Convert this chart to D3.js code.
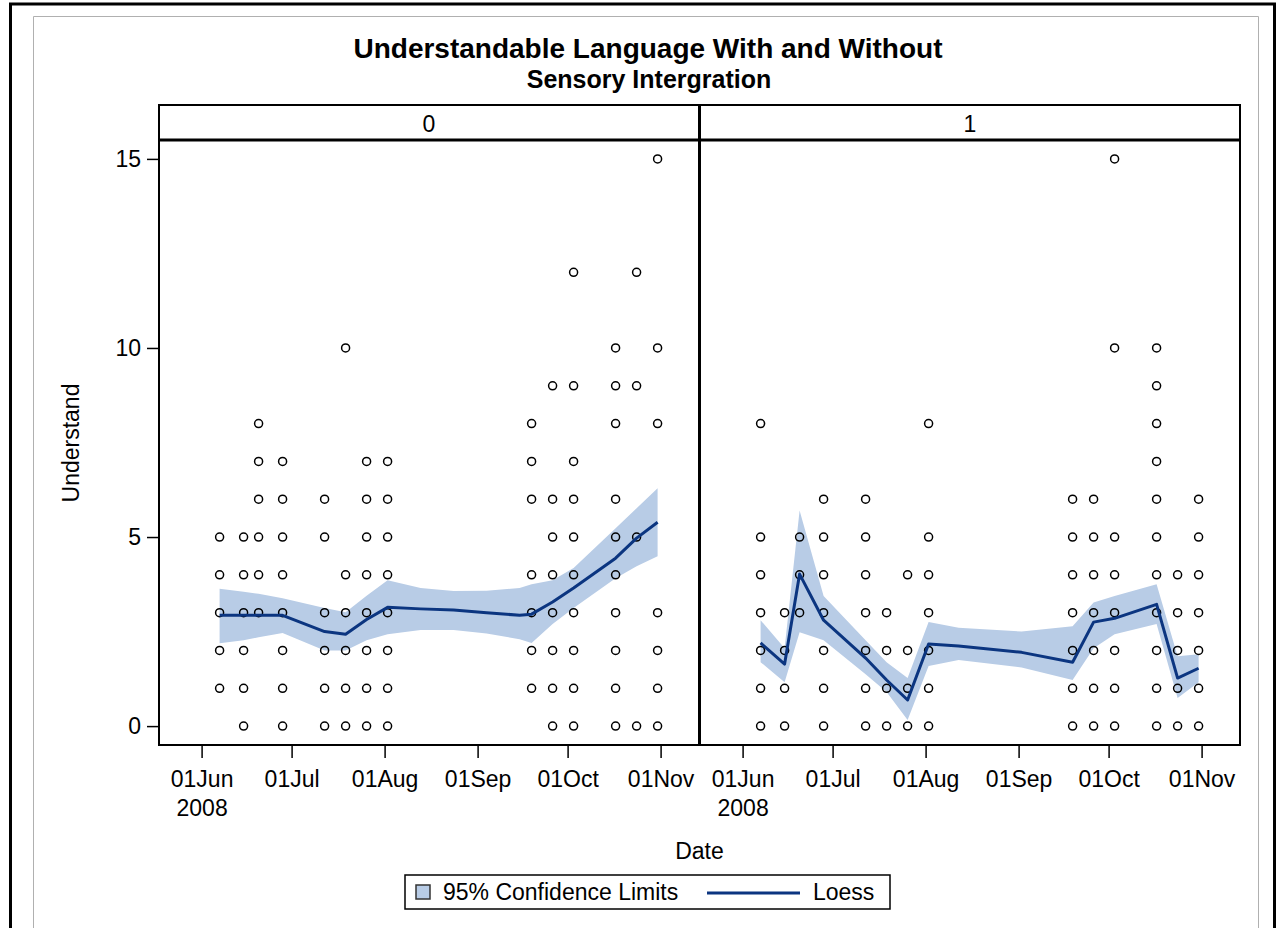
<!DOCTYPE html>
<html>
<head>
<meta charset="utf-8">
<script src="https://cdn.jsdelivr.net/npm/d3@7"></script>
<style>
  body { margin: 0; background: white; }
  svg text { font-family: "Liberation Sans", Arial, sans-serif; fill: #000; }
</style>
</head>
<body>
<div id="graph"></div>
<script>
var PANEL_LEFT = 159;
var PANEL_WIDTH = 540;
var PANEL_GAP = 1;
var HEADER_TOP = 105;
var PLOT_TOP = 140;
var PLOT_BOTTOM = 745;
var FONT = 23;

// ---- data ----
const panel_keys = ["0", "1"];

const x_tick_dates  = ["2008-06-01", "2008-07-01", "2008-08-01", "2008-09-01", "2008-10-01", "2008-11-01"];
const x_tick_labels = ["01Jun", "01Jul", "01Aug", "01Sep", "01Oct", "01Nov"];
const y_ticks = [0, 5, 10, 15];

// observation dates (same visits in both groups)
const obs_dates = ["2008-06-07", "2008-06-15", "2008-06-20", "2008-06-28", "2008-07-12", "2008-07-19", "2008-07-26",
                   "2008-08-02", "2008-09-19", "2008-09-26", "2008-10-03", "2008-10-17", "2008-10-24", "2008-10-31"];

// Understand scores at each date, group 0
const understand_0 = [
  [1, 2, 3, 4, 5],
  [0, 1, 2, 3, 4, 5],
  [3, 4, 5, 6, 7, 8],
  [0, 1, 2, 3, 4, 5, 6, 7],
  [0, 1, 2, 3, 5, 6],
  [0, 1, 2, 3, 4, 10],
  [0, 1, 2, 3, 4, 5, 6, 7],
  [0, 1, 2, 3, 4, 5, 6, 7],
  [1, 2, 3, 4, 6, 7, 8],
  [0, 1, 2, 3, 4, 5, 6, 9],
  [0, 1, 2, 3, 4, 5, 6, 7, 9, 12],
  [0, 1, 2, 3, 4, 5, 6, 8, 9, 10],
  [0, 5, 9, 12],
  [0, 1, 2, 3, 8, 10, 15]
];

// Understand scores at each date, group 1
const understand_1 = [
  [0, 1, 2, 3, 4, 5, 8],
  [0, 1, 2, 3],
  [3, 4, 5],
  [0, 1, 2, 3, 4, 5, 6],
  [0, 1, 2, 3, 4, 5, 6],
  [0, 1, 2, 3],
  [0, 1, 2, 4],
  [0, 1, 2, 3, 4, 5, 8],
  [0, 1, 2, 3, 4, 5, 6],
  [0, 1, 2, 3, 4, 5, 6],
  [0, 1, 2, 3, 4, 5, 10, 15],
  [0, 1, 2, 3, 4, 5, 6, 7, 8, 9, 10],
  [0, 1, 2, 3, 4],
  [0, 1, 2, 3, 4, 5, 6]
];

// loess fit + 95% limits, group 0
const fit_dates_0 = ["2008-06-07", "2008-06-15", "2008-06-20", "2008-06-28", "2008-07-12", "2008-07-19", "2008-07-26",
                     "2008-08-02", "2008-08-13", "2008-08-24", "2008-09-04", "2008-09-15", "2008-09-19", "2008-09-26",
                     "2008-10-03", "2008-10-17", "2008-10-24", "2008-10-31"];
const loess_0 = [2.93, 2.93, 2.93, 2.93, 2.50, 2.43, 2.82, 3.14, 3.10, 3.07, 3.00, 2.93, 2.96, 3.28, 3.65, 4.44, 4.97, 5.39];
const lower_0 = [2.19, 2.27, 2.35, 2.46, 2.00, 2.00, 2.27, 2.43, 2.54, 2.54, 2.45, 2.30, 2.20, 2.70, 3.12, 3.91, 4.23, 4.49];
const upper_0 = [3.63, 3.55, 3.50, 3.38, 3.12, 3.01, 3.45, 3.86, 3.65, 3.57, 3.58, 3.65, 3.75, 3.86, 4.18, 5.23, 5.76, 6.29];

// loess fit + 95% limits, group 1
const fit_dates_1 = ["2008-06-07", "2008-06-15", "2008-06-20", "2008-06-28", "2008-07-12", "2008-07-19", "2008-07-26",
                     "2008-08-02", "2008-08-12", "2008-09-02", "2008-09-19", "2008-09-26", "2008-10-03", "2008-10-17",
                     "2008-10-24", "2008-10-31"];
const loess_1 = [2.20, 1.64, 4.02, 2.80, 1.80, 1.22, 0.69, 2.17, 2.12, 1.95, 1.69, 2.75, 2.85, 3.22, 1.27, 1.53];
const lower_1 = [1.69, 1.16, 2.48, 2.27, 1.37, 0.90, 0.16, 1.59, 1.75, 1.55, 1.22, 2.06, 2.43, 2.70, 0.74, 1.16];
const upper_1 = [2.80, 2.06, 5.70, 3.44, 2.27, 1.69, 1.27, 2.75, 2.60, 2.50, 2.64, 3.27, 3.44, 3.75, 1.85, 1.90];

const BAND_COLOR = "#b8cce6";
const LINE_COLOR = "#0b3580";

// ---- build ----
const parse_date = d3.utcParse("%Y-%m-%d");
const DAY = 864e5;

let panels = [
  {key: panel_keys[0], values: understand_0, fit_dates: fit_dates_0, fit: loess_0, lower: lower_0, upper: upper_0},
  {key: panel_keys[1], values: understand_1, fit_dates: fit_dates_1, fit: loess_1, lower: lower_1, upper: upper_1}
];

let svg = d3.select("#graph")
            .append("svg")
              .attr("width", 1285)
              .attr("height", 928);

svg.append("rect").attr("width", 1285).attr("height", 928).attr("fill", "white");

// outer frame
svg.append("path")
   .attr("d", "M10.5,928 V4 H1274.5 V928")
   .attr("fill", "none")
   .attr("stroke", "#000")
   .attr("stroke-width", 3);
svg.append("path")
   .attr("d", "M33.5,928 V16.5 H1258.5 V928")
   .attr("fill", "none")
   .attr("stroke", "#b0b0b0")
   .attr("stroke-width", 1);

// titles
svg.append("text")
   .attr("x", 648).attr("y", 58)
   .attr("text-anchor", "middle")
   .attr("font-size", 28).attr("font-weight", "bold")
   .text("Understandable Language With and Without");
svg.append("text")
   .attr("x", 649).attr("y", 88)
   .attr("text-anchor", "middle")
   .attr("font-size", 25).attr("font-weight", "bold")
   .text("Sensory Intergration");

// x scale is the same for both panels (May 18 .. Nov 13)
let x_start = new Date(parse_date("2008-06-01").getTime() - 14.2 * DAY);
let x_end   = new Date(parse_date("2008-11-01").getTime() + 12.8 * DAY);

let xscale = d3.scaleUtc()
               .domain([x_start, x_end])
               .range([0, PANEL_WIDTH]);

let yscale = d3.scaleLinear()
               .domain([-0.5, 15.5])
               .range([PLOT_BOTTOM, PLOT_TOP]);

svg.append("defs")
   .append("clipPath").attr("id", "plot-clip")
   .append("rect")
     .attr("x", 0).attr("y", PLOT_TOP)
     .attr("width", PANEL_WIDTH).attr("height", PLOT_BOTTOM - PLOT_TOP);

panels.forEach(function(panel, i) {

  let x0 = PANEL_LEFT + i * (PANEL_WIDTH + PANEL_GAP);
  let g = svg.append("g").attr("transform", `translate(${x0},0)`);

  // header strip
  g.append("rect")
   .attr("x", 0).attr("y", HEADER_TOP)
   .attr("width", PANEL_WIDTH).attr("height", PLOT_TOP - HEADER_TOP)
   .attr("fill", "white").attr("stroke", "#000").attr("stroke-width", 2);
  g.append("text")
   .attr("x", PANEL_WIDTH / 2).attr("y", 132)
   .attr("text-anchor", "middle")
   .attr("font-size", FONT)
   .text(panel.key);

  let plot = g.append("g").attr("clip-path", "url(#plot-clip)");

  // confidence band
  let band_data = panel.fit_dates.map((d, j) => ({date: parse_date(d), lower: panel.lower[j], upper: panel.upper[j]}));
  plot.append("path")
      .datum(band_data)
      .attr("fill", BAND_COLOR)
      .attr("d", d3.area()
                   .x(d => xscale(d.date))
                   .y0(d => yscale(d.lower))
                   .y1(d => yscale(d.upper)));

  // observations
  let points = [];
  obs_dates.forEach(function(d, j) {
    panel.values[j].forEach(v => points.push({date: parse_date(d), value: v}));
  });
  plot.selectAll("circle")
      .data(points)
      .enter()
      .append("circle")
        .attr("cx", d => xscale(d.date))
        .attr("cy", d => yscale(d.value))
        .attr("r", 4)
        .attr("fill", "none")
        .attr("stroke", "#000")
        .attr("stroke-width", 1.5);

  // loess fit
  let fit_data = panel.fit_dates.map((d, j) => ({date: parse_date(d), value: panel.fit[j]}));
  plot.append("path")
      .datum(fit_data)
      .attr("fill", "none")
      .attr("stroke", LINE_COLOR)
      .attr("stroke-width", 3)
      .attr("stroke-linejoin", "round")
      .attr("d", d3.line()
                   .x(d => xscale(d.date))
                   .y(d => yscale(d.value)));

  // plot frame
  g.append("rect")
   .attr("x", 0).attr("y", PLOT_TOP)
   .attr("width", PANEL_WIDTH).attr("height", PLOT_BOTTOM - PLOT_TOP)
   .attr("fill", "none").attr("stroke", "#000").attr("stroke-width", 2);

  // bottom axis
  let x_axis = d3.axisBottom(xscale)
                 .tickValues(x_tick_dates.map(parse_date))
                 .tickFormat((d, j) => x_tick_labels[j])
                 .tickSizeOuter(0)
                 .tickSize(13)
                 .tickPadding(13);

  let xg = g.append("g")
            .attr("transform", `translate(0,${PLOT_BOTTOM})`)
            .call(x_axis);
  xg.select(".domain").remove();
  xg.selectAll("line").attr("stroke", "#000").attr("stroke-width", 1.5);
  xg.selectAll("text")
    .attr("font-size", FONT)
    .attr("font-family", "Liberation Sans, Arial, sans-serif")
    .attr("fill", "#000");
  xg.selectAll(".tick").filter((d, j) => j === 0)
    .append("text")
      .attr("y", 26 + 29)
      .attr("dy", "0.71em")
      .attr("font-size", FONT)
      .attr("font-family", "Liberation Sans, Arial, sans-serif")
      .attr("fill", "#000")
      .attr("text-anchor", "middle")
      .text("2008");
});

// divider between panels and header underline
svg.append("line")
   .attr("x1", PANEL_LEFT + PANEL_WIDTH + 0.5).attr("x2", PANEL_LEFT + PANEL_WIDTH + 0.5)
   .attr("y1", HEADER_TOP).attr("y2", PLOT_BOTTOM)
   .attr("stroke", "#000").attr("stroke-width", 3);
svg.append("line")
   .attr("x1", PANEL_LEFT).attr("x2", PANEL_LEFT + 2 * PANEL_WIDTH + PANEL_GAP)
   .attr("y1", PLOT_TOP).attr("y2", PLOT_TOP)
   .attr("stroke", "#000").attr("stroke-width", 3);

// left axis
let y_axis = d3.axisLeft(yscale)
               .tickValues(y_ticks)
               .tickSizeOuter(0)
               .tickSize(12)
               .tickPadding(6);

let yg = svg.append("g")
            .attr("transform", `translate(${PANEL_LEFT},0)`)
            .call(y_axis);
yg.select(".domain").remove();
yg.selectAll("line").attr("stroke", "#000").attr("stroke-width", 1.5);
yg.selectAll("text")
  .attr("font-size", FONT)
  .attr("font-family", "Liberation Sans, Arial, sans-serif")
  .attr("fill", "#000");

// axis labels
svg.append("text")
   .attr("transform", "translate(79,443) rotate(-90)")
   .attr("text-anchor", "middle")
   .attr("font-size", FONT)
   .text("Understand");

svg.append("text")
   .attr("x", PANEL_LEFT + PANEL_WIDTH + 0.5).attr("y", 859)
   .attr("text-anchor", "middle")
   .attr("font-size", FONT)
   .text("Date");

// legend
let legend = svg.append("g");
legend.append("rect")
      .attr("x", 405).attr("y", 875)
      .attr("width", 485).attr("height", 34)
      .attr("fill", "white").attr("stroke", "#000").attr("stroke-width", 1.5);
legend.append("rect")
      .attr("x", 416).attr("y", 885)
      .attr("width", 14).attr("height", 14)
      .attr("fill", BAND_COLOR).attr("stroke", "#333").attr("stroke-width", 1.5);
legend.append("text")
      .attr("x", 443).attr("y", 900)
      .attr("font-size", FONT)
      .text("95% Confidence Limits");
legend.append("line")
      .attr("x1", 707).attr("x2", 800)
      .attr("y1", 893).attr("y2", 893)
      .attr("stroke", LINE_COLOR).attr("stroke-width", 3);
legend.append("text")
      .attr("x", 813).attr("y", 900)
      .attr("font-size", FONT)
      .text("Loess");
</script>
</body>
</html>
